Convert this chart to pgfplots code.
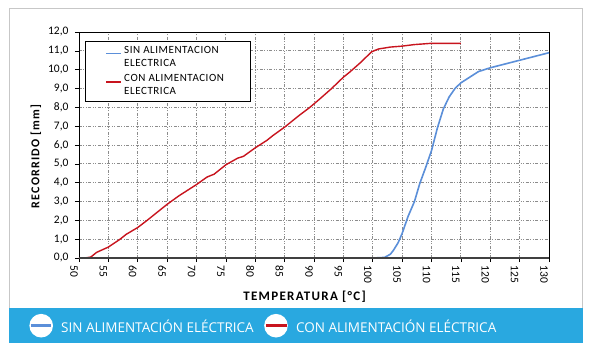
\documentclass[border=0pt]{standalone}
\usepackage{fontspec}
\setmainfont{Carlito}
\newfontfamily\bannerfont{Open Sans}
\newfontfamily\labfont[LetterSpace=10]{Carlito}
\newfontfamily\legfont[LetterSpace=5]{Carlito}
\usepackage{pgfplots}
\pgfplotsset{compat=1.18}
\definecolor{bannerblue}{HTML}{29A8E0}
\definecolor{serblue}{HTML}{5B8FD9}
\definecolor{serred}{HTML}{C8141E}
\definecolor{gridgray}{HTML}{8C8C8C}
\begin{document}
\begin{tikzpicture}
\path[use as bounding box] (-79pt,-96pt) rectangle ++(595pt,354pt);
\begin{scope}[shift={(-79pt,-96pt)}, x=1pt, y=1pt]
\fill[white] (0,0) rectangle (595,354);
\draw[black!22, line width=1pt] (9.5,11.5) rectangle (582.5,345.5);
\fill[bannerblue] (9,11) rectangle (583,46.5);
\fill[white] (41.2,28.3) circle (11.8);
\draw[serblue, line width=3.2pt] (31,28.3) -- (51.5,28.3);
\node[anchor=base west, inner sep=0, text=white, font=\bannerfont\fontsize{13.5}{16}\selectfont] at (61,22) {SIN ALIMENTACIÓN ELÉCTRICA};
\fill[white] (276,28.3) circle (11.8);
\draw[serred, line width=3.2pt] (266,28.3) -- (286.5,28.3);
\node[anchor=base west, inner sep=0, text=white, font=\bannerfont\fontsize{13.5}{16}\selectfont] at (296,22) {CON ALIMENTACIÓN ELÉCTRICA};
\end{scope}
\begin{axis}[
  name=ax, at={(0pt,0pt)}, anchor=south west,
  scale only axis, width=470pt, height=226pt,
  xmin=50, xmax=130, ymin=0, ymax=12,
  xtick distance=5, ytick distance=1,
  tick pos=left, tick align=outside,
  major tick length=4pt,
  every tick/.style={black, line width=0.6pt},
  axis line style={black, line width=0.8pt},
  grid=major,
  major grid style={gridgray, line width=0.8pt, dash pattern=on 3pt off 1.5pt on 1pt off 1.5pt on 1pt off 1.5pt},
  tick label style={font=\fontsize{11.5}{13}\selectfont},
  yticklabel style={/pgf/number format/.cd, fixed, fixed zerofill, precision=1, use comma, /tikz/.cd, xshift=-3pt},
  xticklabel style={rotate=-90, anchor=west, yshift=-5pt},
  /pgf/number format/assume math mode=true,
  xlabel={\labfont\bfseries TEMPERATURA [°C]},
  ylabel={\labfont\bfseries RECORRIDO [mm]},
  xlabel style={font=\fontsize{13}{15}\selectfont, at={(ticklabel cs:0.48)}, anchor=north, yshift=-1pt},
  ylabel style={font=\fontsize{12}{14}\selectfont, at={(ticklabel cs:0.45)}, anchor=south, yshift=0pt},
  legend style={at={(rel axis cs:0.0128,0.962)}, anchor=north west, draw=black, line width=0.8pt, fill=white,
    font=\legfont\fontsize{11}{13}\selectfont, inner xsep=10pt, inner ysep=3pt, row sep=3pt,
    cells={align=left}},
  legend cell align=left,
  legend image code/.code={\path[draw=none] (0pt,0pt) -- (26pt,0pt); \draw[#1, line width=1.6pt] (11pt,3.5pt) -- (26pt,3.5pt);},
  clip=false,
]
\addplot[serblue, line width=1.6pt] coordinates {
(100,0)(102,0.03)(103,0.2)(103.5,0.4)(104.3,0.8)(105,1.3)(106,2.2)(107.1,3.0)(108,3.95)(109,4.8)(110,5.7)(111,6.9)(112,7.9)(113,8.55)(114,9.0)(115,9.3)(116.5,9.6)(118,9.9)(120,10.1)(122.5,10.3)(125,10.5)(127.5,10.7)(130,10.9)};
\addlegendentry{SIN ALIMENTACION\\ELECTRICA}
\addplot[serred, line width=1.4pt] coordinates {
(50,0)(51,0)(52,0.05)(53,0.3)(55,0.58)(57,1.0)(58,1.25)(60,1.62)(61.6,2.0)(63.2,2.4)(65,2.85)(67,3.3)(70,3.9)(71.8,4.3)(73,4.45)(75,4.95)(77,5.3)(78,5.4)(80,5.85)(82,6.25)(83,6.5)(85,6.95)(86,7.2)(87.6,7.6)(89.3,8.0)(91,8.45)(93,9.0)(95,9.6)(96,9.85)(98,10.4)(99.8,10.95)(101,11.1)(103,11.2)(105,11.25)(107,11.33)(110,11.4)(115,11.4)};
\addlegendentry{CON ALIMENTACION\hspace*{14pt}\\ELECTRICA}
\draw[black!75, line width=2pt] (axis cs:50,0) -- (axis cs:130,0);
\end{axis}
\end{tikzpicture}
\end{document}
